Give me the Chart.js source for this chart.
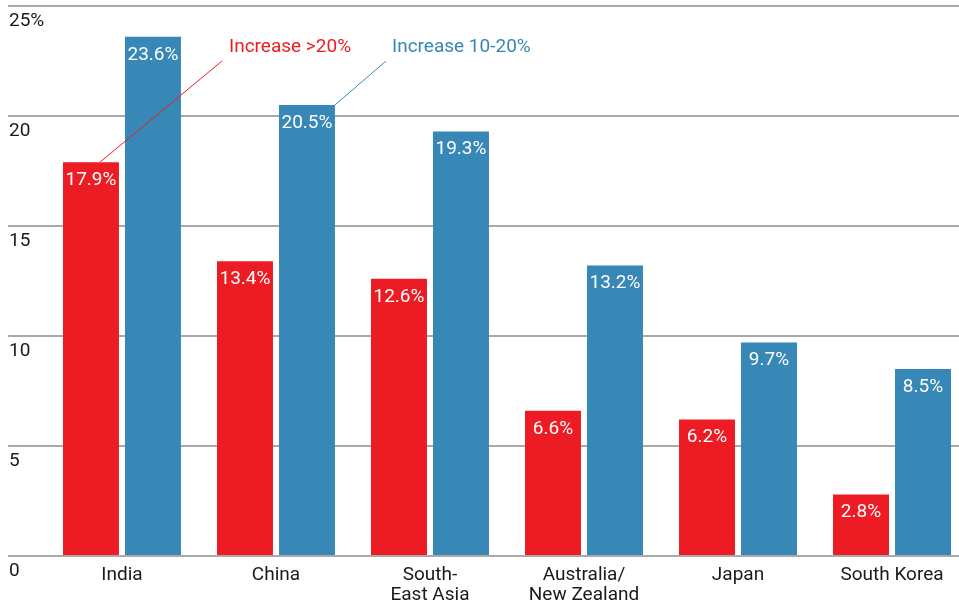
<!DOCTYPE html>
<html>
<head>
<meta charset="utf-8">
<script src="https://cdn.jsdelivr.net/npm/chart.js@4.4.1/dist/chart.umd.min.js"></script>
<style>
  html, body { margin: 0; padding: 0; background: #fff; overflow: hidden; }
  #wrap { width: 959px; height: 603px; }
</style>
</head>
<body>
<div id="wrap"><canvas id="chart" width="959" height="603"></canvas></div>
<script>
const regions = ['India', 'China', ['South-', 'East Asia'], ['Australia/', 'New Zealand'], 'Japan', 'South Korea'];
const over20 = [17.9, 13.4, 12.6, 6.6, 6.2, 2.8];
const from10to20 = [23.6, 20.5, 19.3, 13.2, 9.7, 8.5];
const yTicks = [0, 5, 10, 15, 20, 25];

const RED = '#ed1c24';
const BLUE = '#3787b7';
const FONT = 'Roboto, sans-serif';

// bars sit on a linear x scale so the categories can be placed like the original
const toPoints = vals => vals.map((v, i) => ({ x: i, y: v }));

const valueLabels = {
  id: 'valueLabels',
  afterDatasetsDraw(chart) {
    const ctx = chart.ctx;
    ctx.save();
    ctx.font = `19px ${FONT}`;
    ctx.fillStyle = '#fff';
    ctx.textAlign = 'center';
    ctx.textBaseline = 'middle';
    chart.data.datasets.forEach((ds, di) => {
      chart.getDatasetMeta(di).data.forEach((bar, i) => {
        ctx.fillText(ds.data[i].y.toFixed(1) + '%', bar.x, bar.y + 18);
      });
    });
    ctx.restore();
  }
};

const callouts = {
  id: 'callouts',
  afterDatasetsDraw(chart) {
    const ctx = chart.ctx;
    const redBar = chart.getDatasetMeta(0).data[0];
    const blueBar = chart.getDatasetMeta(1).data[1];
    ctx.save();
    ctx.lineWidth = 1;
    ctx.strokeStyle = RED;
    ctx.beginPath();
    ctx.moveTo(redBar.x + 9, redBar.y);
    ctx.lineTo(222, 61);
    ctx.stroke();
    ctx.strokeStyle = BLUE;
    ctx.beginPath();
    ctx.moveTo(blueBar.x + blueBar.width / 2, blueBar.y);
    ctx.lineTo(386, 61);
    ctx.stroke();

    ctx.font = `19px ${FONT}`;
    ctx.textBaseline = 'middle';
    ctx.textAlign = 'left';
    ctx.fillStyle = RED;
    ctx.fillText('Increase >20%', 229, 47);
    ctx.fillStyle = BLUE;
    ctx.fillText('Increase 10-20%', 392, 47);
    ctx.restore();
  }
};

new Chart(document.getElementById('chart'), {
  type: 'bar',
  data: {
    datasets: [
      { label: 'Increase >20%', data: toPoints(over20), backgroundColor: RED },
      { label: 'Increase 10-20%', data: toPoints(from10to20), backgroundColor: BLUE }
    ]
  },
  options: {
    responsive: false,
    animation: false,
    events: [],
    categoryPercentage: 0.805,
    barPercentage: 0.903,
    layout: { padding: { left: 8, right: 0, top: 6, bottom: 0 } },
    plugins: { legend: { display: false }, tooltip: { enabled: false } },
    scales: {
      x: {
        type: 'linear',
        offset: false,
        min: -0.74,
        max: 5.435,
        afterBuildTicks: s => { s.ticks = regions.map((r, i) => ({ value: i })); },
        afterFit: s => { s.height = 47; s.paddingLeft = 0; s.paddingRight = 0; },
        grid: { display: false, offset: false },
        border: { display: false },
        ticks: {
          autoSkip: false,
          maxRotation: 0,
          padding: 1,
          color: '#1a1a1a',
          font: { family: FONT, size: 19, lineHeight: 1.05 },
          callback: v => regions[v]
        }
      },
      y: {
        min: 0,
        max: 25,
        afterBuildTicks: s => { s.ticks = yTicks.map(v => ({ value: v })); },
        afterFit: s => { s.width = 0; s.paddingTop = 0; s.paddingBottom = 0; },
        grid: { color: '#a9a9a9', lineWidth: 2, drawTicks: false },
        border: { display: false },
        ticks: {
          mirror: true,
          padding: 1,
          labelOffset: 15,
          color: '#1a1a1a',
          font: { family: FONT, size: 19 },
          callback: v => v === 25 ? '25%' : String(v)
        }
      }
    }
  },
  plugins: [valueLabels, callouts]
});
</script>
</body>
</html>
